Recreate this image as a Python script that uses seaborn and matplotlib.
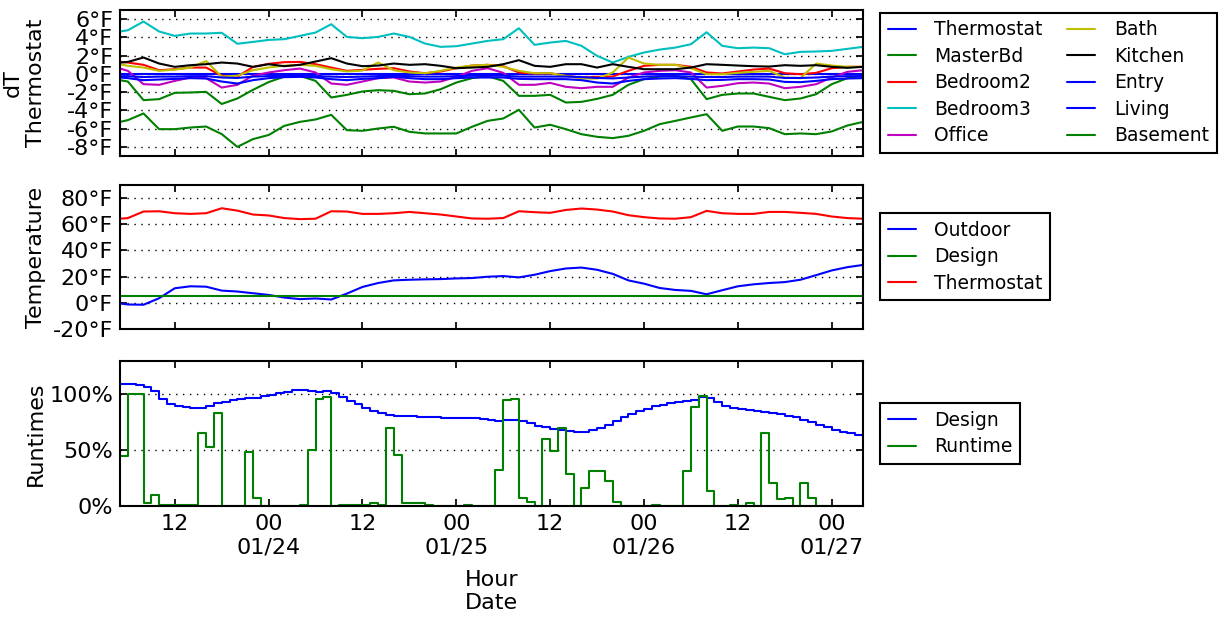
import pandas as pd
import matplotlib
matplotlib.use('Agg')
import matplotlib.pyplot as plt
from matplotlib.ticker import FuncFormatter
import seaborn as sns

sns.set_theme(style='ticks', rc={
    'axes.linewidth': 1.5,
    'axes.edgecolor': 'black',
    'text.color': 'black',
    'axes.labelcolor': 'black',
    'xtick.color': 'black',
    'ytick.color': 'black',
    'xtick.direction': 'in',
    'ytick.direction': 'in',
    'xtick.top': True,
    'ytick.right': True,
    'xtick.major.size': 5,
    'ytick.major.size': 5,
    'xtick.major.pad': 6,
    'ytick.major.pad': 5,
    'xtick.labelsize': 16,
    'ytick.labelsize': 16,
    'axes.labelsize': 16,
    'legend.fontsize': 13.5,
})
plt.rcParams['font.family'] = ['DejaVu Sans']

# horas desde 01/23 05:00
start = pd.Timestamp('2014-01-23 05:00')
hours = [0] + list(range(1, 96, 2))
t_lines = start + pd.to_timedelta(hours, unit='h')
t_steps = pd.date_range(start, periods=96, freq='h')

# dT respecto al termostato (°F)
thermostat_dT = [0.0] * len(hours)
masterbd_dT = [-0.69, -0.84, -2.88, -2.77, -2.08, -2.04, -1.97, -3.3, -2.7, -1.75, -0.9, -0.3, -0.22,
               -0.77, -2.59, -2.30, -1.93, -1.79, -1.86, -2.23, -2.15, -1.68, -0.95, -0.47, -0.26,
               -0.77, -2.41, -2.41, -2.30, -3.14, -3.07, -2.74, -2.30, -1.20, -0.58, -0.29, -0.22,
               -0.58, -2.77, -2.30, -2.15, -2.15, -2.52, -2.88, -2.70, -2.23, -1.13, -0.47, -0.22]
bedroom2_dT = [1.31, 1.24, 0.99, 0.40, 0.51, 0.69, 0.69, -0.2, -0.3, 0.75, 1.1, 1.28, 1.31,
               1.06, 0.69, 0.33, 0.44, 0.55, 0.62, 0.26, 0.07, 0.26, 0.62, 0.91, 0.99,
               0.84, 0.15, 0.04, 0.07, -0.22, -0.40, -0.33, -0.29, 0.33, 0.88, 0.99, 0.99,
               0.77, 0.15, 0.04, 0.26, 0.47, 0.58, 0.07, -0.04, 0.11, 0.62, 0.77, 0.77]
bedroom3_dT = [4.64, 4.78, 5.73, 4.64, 4.16, 4.42, 4.42, 4.5, 3.3, 3.5, 3.72, 3.80, 4.16,
               4.53, 5.44, 4.05, 3.91, 4.05, 4.42, 4.05, 3.32, 2.96, 3.03, 3.32, 3.61,
               3.80, 5.00, 3.18, 3.43, 3.61, 3.07, 1.97, 1.24, 1.86, 2.34, 2.66, 2.88,
               3.25, 4.56, 3.07, 2.81, 2.88, 2.81, 2.15, 2.41, 2.45, 2.52, 2.74, 2.96]
office_dT = [0.58, 0.33, -1.13, -1.20, -0.77, -0.40, -0.47, -1.5, -1.2, -0.2, 0.15, 0.40, 0.58,
             0.15, -1.06, -1.20, -0.84, -0.47, -0.40, -0.84, -0.95, -0.84, -0.33, 0.33, 0.62,
             0.11, -1.20, -1.20, -0.99, -1.42, -1.57, -1.42, -1.42, -0.40, 0.15, 0.33, 0.40,
             0.15, -1.50, -1.31, -1.02, -0.95, -1.06, -1.57, -1.42, -1.13, -0.40, 0.22, 0.40]
bath_dT = [1.06, 0.88, 0.69, 0.33, 0.47, 0.69, 1.4, -0.3, -0.2, 0.4, 0.7, 0.9, 0.99,
           0.88, 0.51, 0.26, 0.36, 1.24, 0.40, 0.15, 0.07, 0.33, 0.69, 0.91, 0.99,
           0.77, 0.33, 0.07, 0.07, -0.22, -0.51, -0.51, 0.15, 1.79, 1.13, 0.99, 0.99,
           0.62, -0.04, -0.04, 0.11, 0.22, 0.33, -0.40, -0.47, 1.13, 0.91, 0.77, 0.77]
kitchen_dT = [1.24, 1.31, 1.79, 1.13, 0.77, 0.95, 1.06, 1.24, 1.13, 0.77, 1.06, 0.84, 0.99,
              1.35, 1.72, 1.13, 0.84, 0.91, 1.13, 0.99, 1.06, 0.88, 0.62, 0.69, 0.77,
              1.06, 1.50, 0.88, 0.77, 1.06, 1.06, 0.69, 1.06, 0.77, 0.51, 0.51, 0.51,
              0.69, 1.06, 0.99, 0.91, 0.84, 0.80, 0.95, 0.88, 0.95, 0.77, 0.66, 0.77]
entry_dT = [-0.40, -0.47, -0.69, -0.62, -0.55, -0.47, -0.51, -0.84, -1.06, -0.69, -0.47, -0.36, -0.33,
            -0.40, -0.58, -0.69, -0.55, -0.47, -0.33, -0.47, -0.58, -0.58, -0.47, -0.40, -0.40,
            -0.40, -0.55, -0.58, -0.58, -0.58, -0.69, -0.95, -1.06, -0.77, -0.58, -0.51, -0.47,
            -0.55, -0.69, -0.66, -0.58, -0.58, -0.62, -0.88, -0.91, -0.77, -0.58, -0.51, -0.47]
living_dT = [-0.25, -0.25, -0.35, -0.3, -0.3, -0.25, -0.25, -0.4, -0.45, -0.3, -0.25, -0.2, -0.2,
             -0.25, -0.3, -0.35, -0.3, -0.25, -0.2, -0.25, -0.3, -0.3, -0.25, -0.2, -0.2,
             -0.2, -0.3, -0.3, -0.3, -0.3, -0.35, -0.45, -0.5, -0.4, -0.3, -0.25, -0.25,
             -0.3, -0.35, -0.35, -0.3, -0.3, -0.3, -0.45, -0.45, -0.4, -0.3, -0.25, -0.25]
basement_dT = [-5.26, -5.07, -4.34, -6.06, -6.06, -5.88, -5.77, -6.6, -8.0, -7.15, -6.7, -5.7, -5.26,
               -5.00, -4.49, -6.17, -6.24, -5.99, -5.80, -6.35, -6.53, -6.53, -6.53, -5.80, -5.15,
               -4.89, -3.94, -5.88, -5.58, -6.06, -6.61, -6.90, -7.04, -6.79, -6.24, -5.51, -5.15,
               -4.78, -4.42, -6.24, -5.77, -5.77, -5.95, -6.61, -6.53, -6.61, -6.31, -5.66, -5.26]

# temperaturas (°F)
outdoor_temp = [-0.5, -1.3, -1.5, 3.5, 11.1, 12.6, 12.3, 9.3, 8.6, 7.3, 6.0, 4.0, 2.8,
                3.3, 2.5, 7.0, 12.1, 15.1, 17.1, 17.6, 17.9, 18.1, 18.6, 18.9, 19.9,
                20.4, 19.4, 21.4, 24.2, 26.2, 26.9, 25.2, 22.1, 17.1, 14.6, 11.3, 9.8,
                9.1, 6.5, 9.6, 12.6, 14.1, 15.1, 15.8, 17.6, 21.1, 24.7, 27.2, 28.9]
design_temp = [5.0] * len(hours)
thermostat_temp = [64.2, 64.7, 69.7, 69.9, 68.4, 67.9, 68.4, 72.2, 70.4, 67.4, 66.7, 64.7, 63.9,
                   64.2, 69.9, 69.7, 67.9, 67.9, 68.4, 69.4, 68.4, 67.4, 65.9, 64.4, 64.2,
                   64.7, 69.9, 69.2, 68.7, 70.9, 72.0, 71.2, 69.7, 66.9, 65.4, 64.4, 64.2,
                   65.4, 70.2, 68.4, 67.9, 67.9, 69.4, 69.4, 68.7, 67.9, 65.9, 64.7, 64.2]

# runtimes por hora (%)
design_run = [109.2, 109.2, 108.9, 107.1, 103.3, 95.8, 91.4, 89.9, 89.0, 88.1, 88.1, 89.9,
              92.0, 93.5, 94.9, 95.8, 96.4, 97.0, 98.2, 99.7, 101.2, 102.4, 103.6, 103.9,
              103.0, 102.4, 103.0, 101.2, 97.3, 94.3, 91.4, 87.5, 85.4, 83.3, 81.5, 81.0,
              80.7, 80.4, 80.1, 79.8, 79.5, 79.2, 79.2, 79.2, 79.2, 78.6, 78.0, 77.1,
              76.2, 76.8, 77.1, 76.2, 74.4, 72.0, 70.5, 69.0, 67.9, 67.0, 66.1, 66.7,
              67.9, 69.6, 72.6, 76.2, 80.1, 82.4, 84.8, 86.9, 89.3, 90.8, 92.0, 92.9,
              93.8, 94.9, 97.3, 96.4, 92.9, 89.9, 88.1, 86.9, 86.0, 85.4, 84.5, 83.3,
              82.1, 81.0, 79.5, 77.4, 75.0, 72.6, 70.5, 68.5, 66.7, 65.2, 64.0, 63.1]
runtime_run = [45, 100, 100, 3, 10, 1, 1, 1, 1, 1, 65, 53,
               83, 0, 0, 0, 48, 7, 0, 0, 0, 0, 0, 1,
               50, 96, 98, 0, 1, 1, 1, 1, 3, 1, 70, 46,
               3, 3, 3, 1, 0, 0, 0, 0, 1, 0, 0, 0,
               32, 95, 96, 7, 4, 0, 60, 49, 70, 29, 0, 16,
               31, 31, 22, 4, 0, 0, 0, 0, 1, 0, 0, 0,
               31, 89, 99, 13, 0, 0, 1, 0, 3, 0, 65, 21,
               6, 7, 0, 21, 7, 0, 0, 0, 0, 0, 0, 0]

rooms = ['Thermostat', 'MasterBd', 'Bedroom2', 'Bedroom3', 'Office',
         'Bath', 'Kitchen', 'Entry', 'Living', 'Basement']
room_colors = {'Thermostat': '#0000ff', 'MasterBd': '#008000', 'Bedroom2': '#ff0000',
               'Bedroom3': '#00bfbf', 'Office': '#bf00bf', 'Bath': '#bfbf00',
               'Kitchen': '#000000', 'Entry': '#0000ff', 'Living': '#0000ff',
               'Basement': '#008000'}

dT = pd.DataFrame({
    'time': t_lines,
    'Thermostat': thermostat_dT, 'MasterBd': masterbd_dT, 'Bedroom2': bedroom2_dT,
    'Bedroom3': bedroom3_dT, 'Office': office_dT, 'Bath': bath_dT,
    'Kitchen': kitchen_dT, 'Entry': entry_dT, 'Living': living_dT,
    'Basement': basement_dT,
}).melt(id_vars='time', var_name='room', value_name='dT')

temps = pd.DataFrame({
    'time': t_lines,
    'Outdoor': outdoor_temp, 'Design': design_temp, 'Thermostat': thermostat_temp,
}).melt(id_vars='time', var_name='serie', value_name='temp')

runs = pd.DataFrame({
    'time': t_steps,
    'Design': design_run, 'Runtime': runtime_run,
}).melt(id_vars='time', var_name='serie', value_name='run')

fig = plt.figure(figsize=(12.25, 6.2), dpi=100)
ax1 = fig.add_axes([0.098, 0.7484, 0.6065, 0.2355])
ax2 = fig.add_axes([0.098, 0.4694, 0.6065, 0.2323])
ax3 = fig.add_axes([0.098, 0.1839, 0.6065, 0.2339])

sns.lineplot(data=dT, x='time', y='dT', hue='room', hue_order=rooms,
             palette=room_colors, estimator=None, lw=1.5, ax=ax1)
sns.lineplot(data=temps, x='time', y='temp', hue='serie',
             hue_order=['Outdoor', 'Design', 'Thermostat'],
             palette=['#0000ff', '#008000', '#ff0000'], estimator=None, lw=1.5, ax=ax2)
sns.lineplot(data=runs, x='time', y='run', hue='serie',
             hue_order=['Design', 'Runtime'], palette=['#0000ff', '#008000'],
             estimator=None, lw=1.5, drawstyle='steps-post', ax=ax3)

ax1.set_ylim(-9, 7)
ax1.set_yticks(range(-8, 7, 2))
ax1.yaxis.set_major_formatter(FuncFormatter(lambda v, p: f'{v:g}°F'))
ax1.set_ylabel('dT\nThermostat')

ax2.set_ylim(-20, 90)
ax2.set_yticks(range(-20, 81, 20))
ax2.yaxis.set_major_formatter(FuncFormatter(lambda v, p: f'{v:g}°F'))
ax2.set_ylabel('Temperature')

ax3.set_ylim(0, 130)
ax3.set_yticks([0, 50, 100])
ax3.yaxis.set_major_formatter(FuncFormatter(lambda v, p: f'{v:g}%'))
ax3.set_ylabel('Runtimes')

xticks = pd.date_range('2014-01-23 12:00', '2014-01-27 00:00', freq='12h')
xlabels = [f'{t:%H}' if t.hour == 12 else f'{t:%H}\n{t:%m/%d}' for t in xticks]

for ax in (ax1, ax2, ax3):
    ax.set_xlim(start, start + pd.Timedelta(hours=95))
    ax.set_xticks(xticks)
    ax.grid(False)
    ax.yaxis.grid(True, color='black', linestyle=(0, (1, 4)), linewidth=1)
    ax.yaxis.set_label_coords(-0.10, 0.5)
    for s in ax.spines.values():
        s.set_visible(True)
    sns.move_legend(ax, 'center left', bbox_to_anchor=(1.023, 0.5),
                    ncol=2 if ax is ax1 else 1, title=None, frameon=True,
                    fancybox=False, edgecolor='black', framealpha=1,
                    handlelength=1.5, handletextpad=1.0, columnspacing=1.3,
                    labelspacing=0.4, borderaxespad=0)
    ax.get_legend().get_frame().set_linewidth(1.5)

ax1.set_xlabel('')
ax2.set_xlabel('')
ax1.tick_params(labelbottom=False)
ax2.tick_params(labelbottom=False)
ax3.set_xticklabels(xlabels)
ax3.set_xlabel('Hour\nDate', labelpad=9)

fig.savefig('out.png', dpi=100)
